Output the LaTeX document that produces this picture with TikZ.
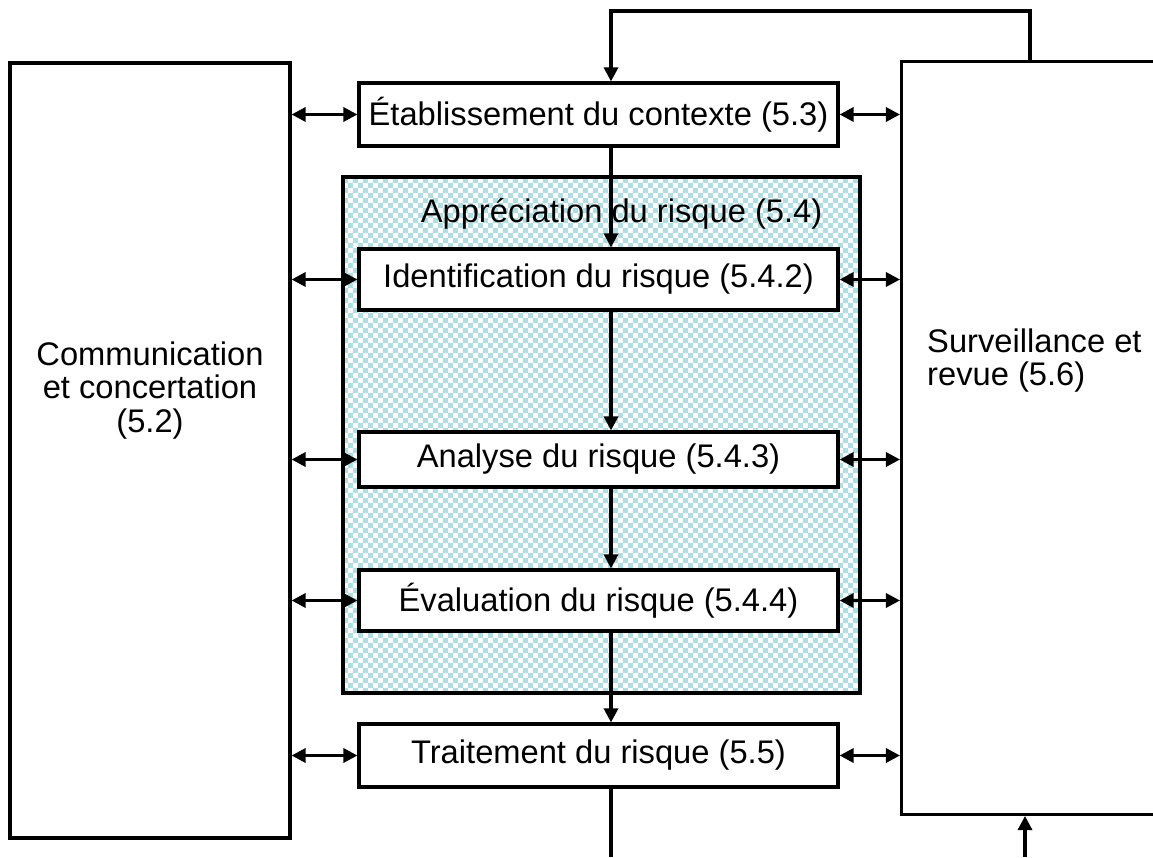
\documentclass[tikz,border=0pt]{standalone}
\usepackage{fontspec}
\setmainfont{Liberation Sans}
\usetikzlibrary{arrows.meta,patterns}
\definecolor{checkteal}{RGB}{178,221,226}
\pgfdeclarepatternformonly{bigchecker}{\pgfpointorigin}{\pgfqpoint{5.6693pt}{5.6693pt}}{\pgfqpoint{5.6693pt}{5.6693pt}}{
  \pgfpathrectangle{\pgfpointorigin}{\pgfqpoint{2.8346pt}{2.8346pt}}
  \pgfpathrectangle{\pgfqpoint{2.8346pt}{2.8346pt}}{\pgfqpoint{2.8346pt}{2.8346pt}}
  \pgfusepath{fill}}

\begin{document}
\begin{tikzpicture}[
    box/.style={draw, line width=1.8pt, fill=white, inner sep=0pt},
    stage/.style={box, minimum width=9.58cm, minimum height=1.22cm},
    flow/.style={-{Triangle[length=8pt,width=8pt]}, line width=1.8pt},
    link/.style={{Triangle[length=8pt,width=8pt]}-{Triangle[length=8pt,width=8pt]}, line width=1.8pt},
    font=\fontsize{18.6}{19.2}\selectfont]
  \useasboundingbox (0,0) rectangle (23.06,17.14);
  \clip (0,0) rectangle (23.06,17.14);
  % side blocks
  \node[box, minimum width=5.6cm, minimum height=15.5cm] (comm) at (3.0,8.13) {};
  \node[align=center] (commtxt) at (3.0,9.33) {Communication\\et concertation\\(5.2)};
  \node[box, anchor=south west, minimum width=5.4cm, minimum height=15.06cm] (surv) at (18.0,0.82) {};
  \node[anchor=west, align=left] (survtxt) at (18.42,9.93) {Surveillance et\\revue (5.6)};
  % risk assessment area
  \node[draw, line width=1.8pt, pattern=bigchecker, pattern color=checkteal,
        minimum width=10.34cm, minimum height=10.32cm] (apprec) at (12.03,8.44) {};
  \node[anchor=east, xshift=-0.66cm, yshift=-0.76cm] (apprectxt) at (apprec.north east) {Appréciation du risque (5.4)};
  % process steps
  \node[stage, minimum height=1.26cm] (ctx) at (11.97,14.85) {Établissement du contexte (5.3)};
  \node[stage] (ident) at (11.97,11.55) {Identification du risque (5.4.2)};
  \node[stage, minimum height=1.1cm] (anal) at (11.97,7.95) {Analyse du risque (5.4.3)};
  \node[stage] (eval) at (11.97,5.13) {Évaluation du risque (5.4.4)};
  \node[stage, minimum height=1.26cm] (treat) at (11.97,2.03) {Traitement du risque (5.5)};
  \coordinate (spine) at (12.22,0);
  \coordinate (loop) at (20.6,16.92);
  \coordinate (feed) at (20.5,0);
  % connectors
  \draw[flow] (surv.north -| loop) -- (loop) -- (loop -| spine) -- (ctx.north -| spine);
  \foreach \a/\b in {ctx/ident, ident/anal, anal/eval, eval/treat}
    \draw[flow] (\a.south -| spine) -- (\b.north -| spine);
  \draw[line width=1.8pt] (treat.south -| spine) -- (spine);
  \draw[flow] (feed) -- (surv.south -| feed);
  \foreach \s in {ctx, ident, anal, eval, treat} {
    \draw[link] (comm.east |- \s) -- (\s.west);
    \draw[link] (\s.east) -- (surv.west |- \s);
  }
\end{tikzpicture}
\end{document}
